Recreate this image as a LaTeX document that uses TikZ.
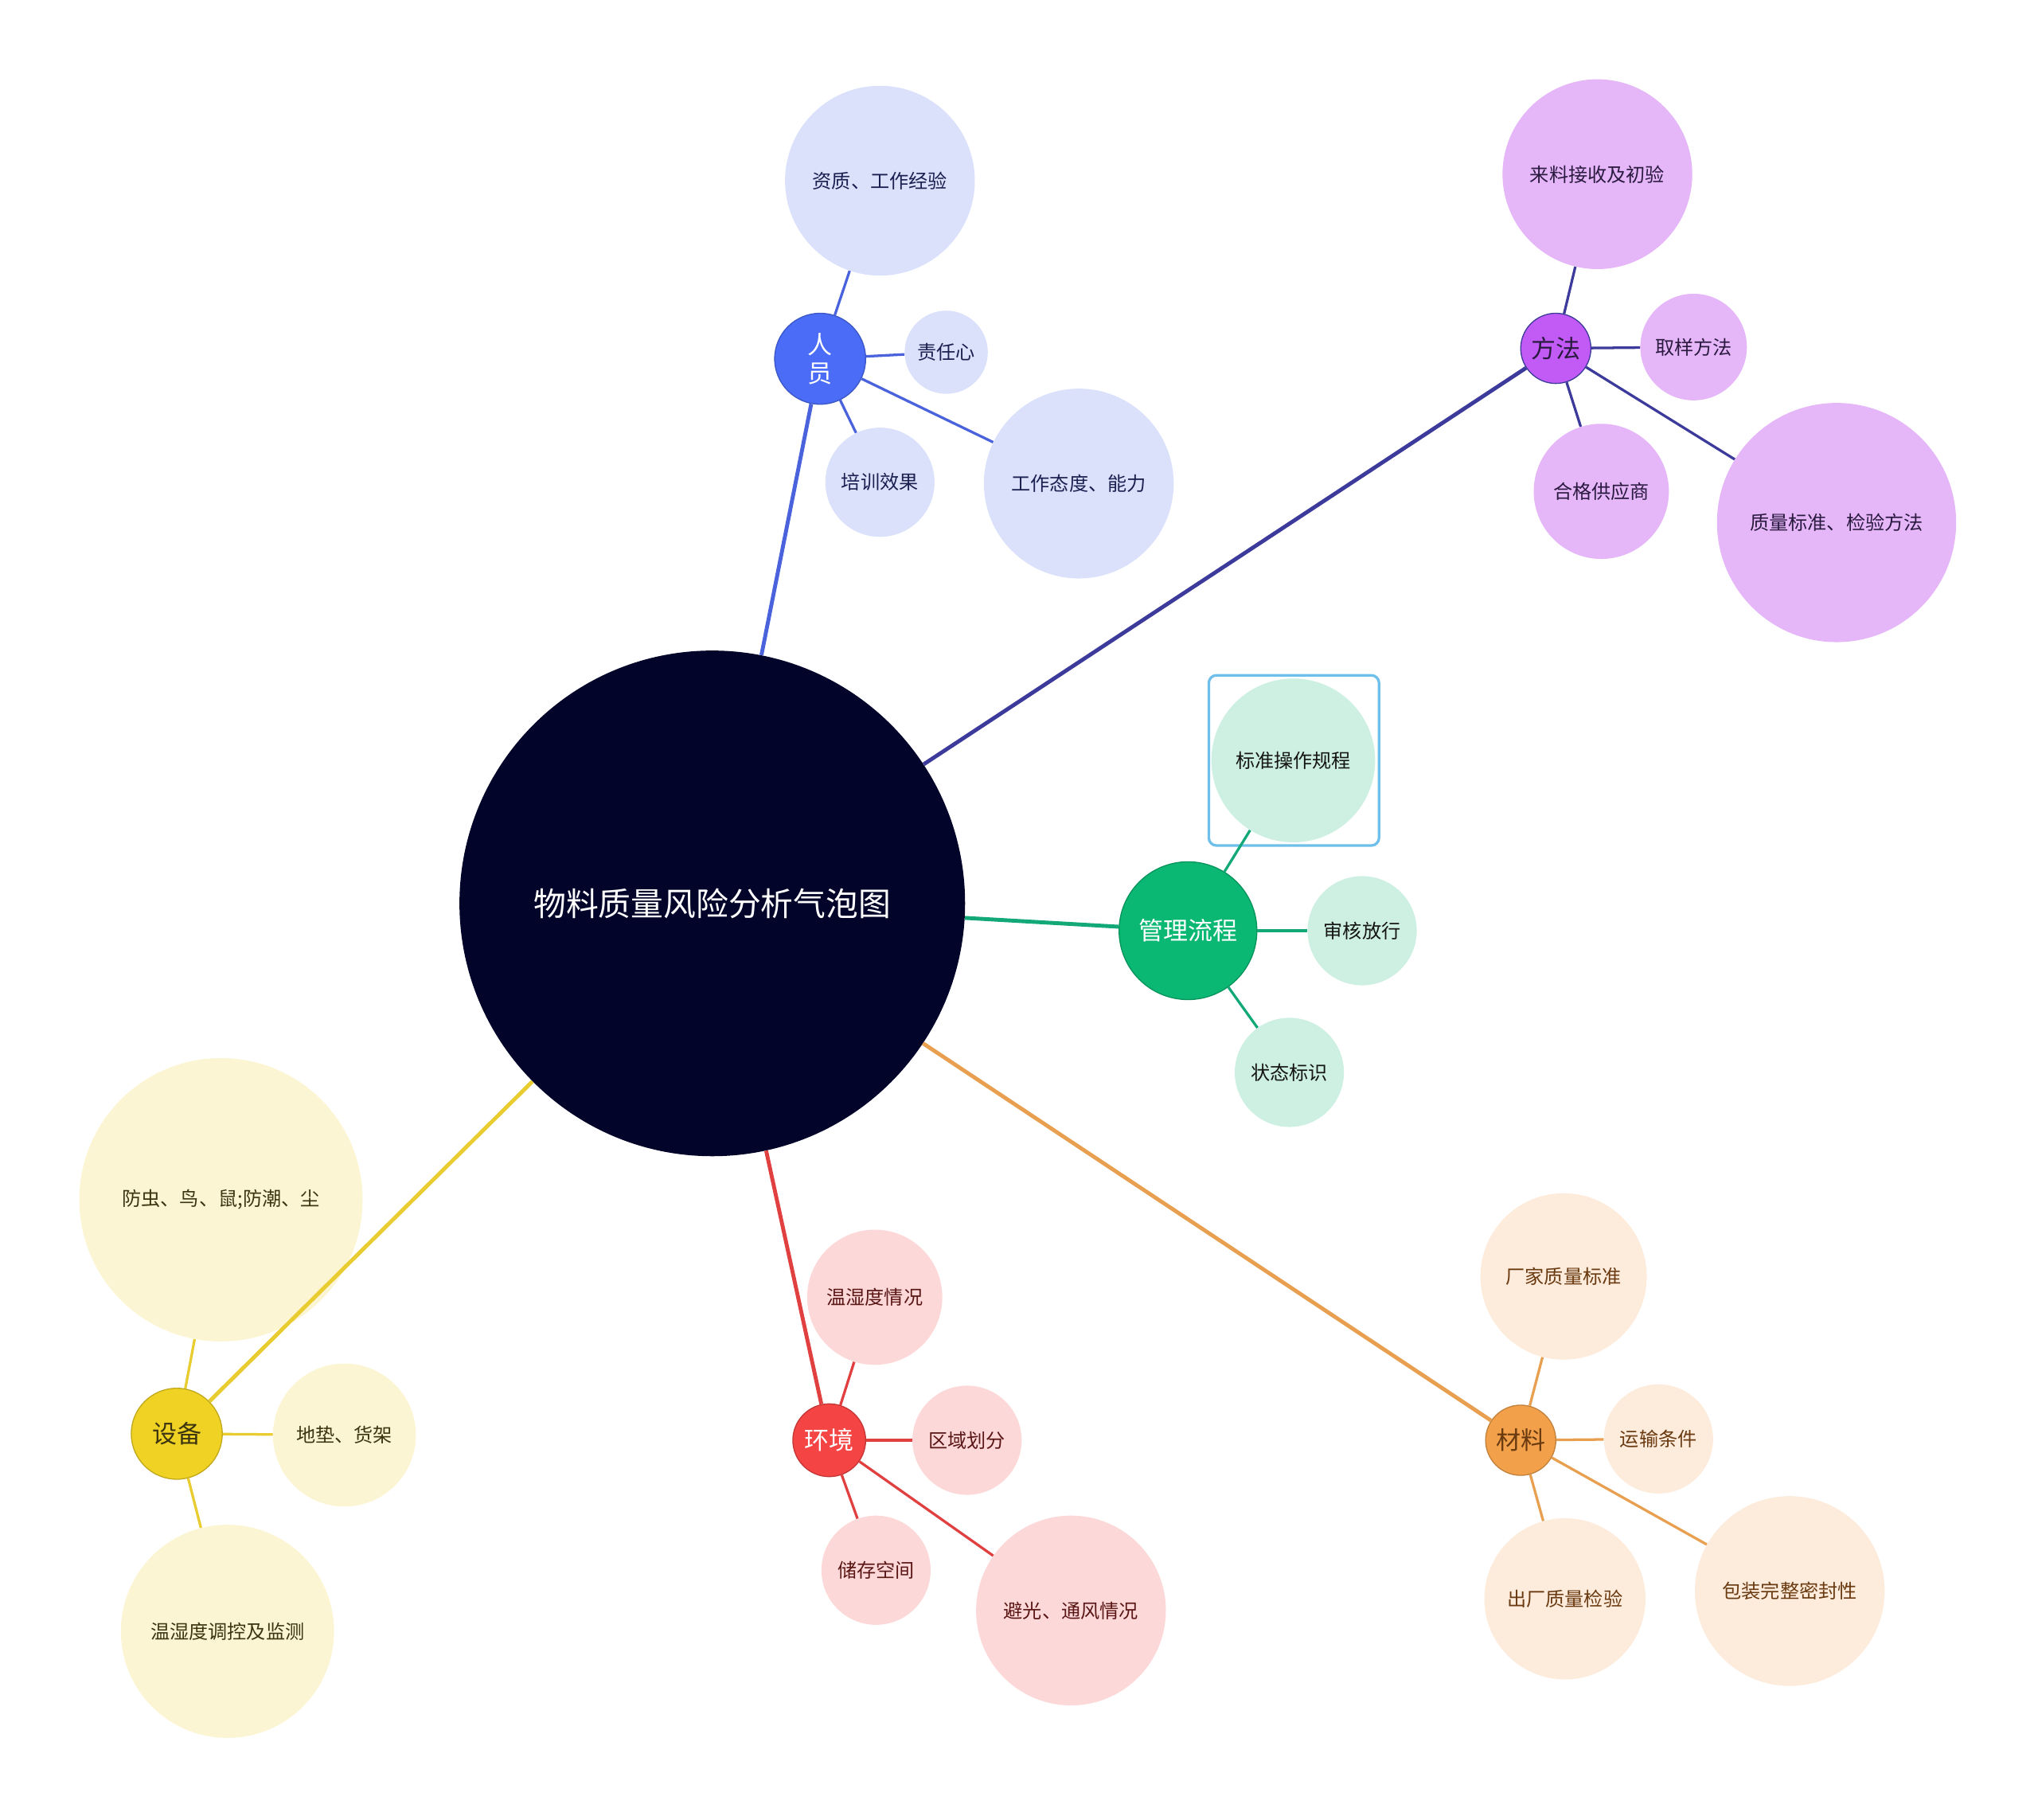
\documentclass[tikz,border=0pt]{standalone}
\usepackage{fontspec}
\setmainfont{Noto Sans CJK SC}
\usepackage{tikz}

\definecolor{navy}{HTML}{020529}
\definecolor{staffc}{HTML}{4A6CF6}\definecolor{staffl}{HTML}{DBE1FB}\definecolor{staffk}{HTML}{4A63DD}\definecolor{stafft}{HTML}{1A2050}
\definecolor{methc}{HTML}{C25AF5}\definecolor{methl}{HTML}{E5B6F8}\definecolor{methk}{HTML}{3C3A9A}\definecolor{metht}{HTML}{2A1A40}
\definecolor{mgmtc}{HTML}{0BB873}\definecolor{mgmtl}{HTML}{CDF0E2}\definecolor{mgmtk}{HTML}{12A878}\definecolor{mgmtt}{HTML}{151515}
\definecolor{equc}{HTML}{F0D224}\definecolor{equl}{HTML}{FCF5D3}\definecolor{equk}{HTML}{E8CC30}\definecolor{equt}{HTML}{3D3510}
\definecolor{envc}{HTML}{F44444}\definecolor{envl}{HTML}{FCD9D8}\definecolor{envk}{HTML}{E04040}\definecolor{envt}{HTML}{5A1515}
\definecolor{matc}{HTML}{F3A04A}\definecolor{matl}{HTML}{FDEBDC}\definecolor{matk}{HTML}{E8A050}\definecolor{matt}{HTML}{6A3A10}
\definecolor{selc}{HTML}{6EC0EA}

\begin{document}
\begin{tikzpicture}[
  x=1pt, y=-1pt,
  bubble/.style={circle, inner sep=0pt, align=center},
  topic/.style={bubble, fill=#1, draw=#1!80!black, line width=0.8pt,
                font=\fontsize{19}{22}\selectfont, text=white},
  leaf/.style={bubble, fill=#1, font=\fontsize{14.8}{17}\selectfont},
  link/.style={line width=3pt, draw=#1},
  twig/.style={line width=2pt, draw=#1},
  selbox/.style={draw=selc, line width=2pt, rounded corners=6pt,
                 minimum size=131pt, inner sep=0pt}
]
\useasboundingbox (0,0) rectangle (1568,1400);

% centre
\node[bubble, fill=navy, minimum size=389pt, text=white,
      font=\fontsize{25}{29}\selectfont] (ctr) at (548,695) {物料质量风险分析气泡图};

% 人员
\node[topic=staffc, minimum size=70pt, align=left] (staff) at (631,276) {人\\员};
\node[leaf=staffl, text=stafft, minimum size=146pt] (qual) at (677,139) {资质、工作经验};
\node[leaf=staffl, text=stafft, minimum size=64pt] (duty) at (728,271) {责任心};
\node[leaf=staffl, text=stafft, minimum size=84pt] (train) at (677,371) {培训效果};
\node[leaf=staffl, text=stafft, minimum size=146pt] (attit) at (830,372) {工作态度、能力};

% 方法
\node[topic=methc, minimum size=54pt, text=metht, draw=methk] (method) at (1197,268) {方法};
\node[leaf=methl, text=metht, minimum size=146pt] (recv) at (1229,134) {来料接收及初验};
\node[leaf=methl, text=metht, minimum size=82pt] (sample) at (1303,267) {取样方法};
\node[leaf=methl, text=metht, minimum size=104pt] (supp) at (1232,378) {合格供应商};
\node[leaf=methl, text=metht, minimum size=184pt] (std) at (1413,402) {质量标准、检验方法};

% 管理流程
\node[topic=mgmtc, minimum size=106pt] (mgmt) at (914,716) {管理流程};
\node[leaf=mgmtl, text=mgmtt, minimum size=126pt] (sop) at (995,585) {标准操作规程};
\node[selbox] (sel) at (995.5,585) {};
\node[leaf=mgmtl, text=mgmtt, minimum size=84pt] (rel) at (1048,716) {审核放行};
\node[leaf=mgmtl, text=mgmtt, minimum size=84pt] (mark) at (992,825) {状态标识};

% 设备
\node[topic=equc, minimum size=70pt, text=equt] (equip) at (136,1103) {设备};
\node[leaf=equl, text=equt, minimum size=218pt] (pest) at (170,923) {防虫、鸟、鼠;防潮、尘};
\node[leaf=equl, text=equt, minimum size=110pt] (rack) at (265,1104) {地垫、货架};
\node[leaf=equl, text=equt, minimum size=164pt] (ctrl) at (175,1255) {温湿度调控及监测};

% 环境
\node[topic=envc, minimum size=56pt] (env) at (638,1108) {环境};
\node[leaf=envl, text=envt, minimum size=104pt] (humid) at (673,998) {温湿度情况};
\node[leaf=envl, text=envt, minimum size=84pt] (zone) at (744,1108) {区域划分};
\node[leaf=envl, text=envt, minimum size=84pt] (space) at (674,1208) {储存空间};
\node[leaf=envl, text=envt, minimum size=146pt] (light) at (824,1239) {避光、通风情况};

% 材料
\node[topic=matc, minimum size=54pt, text=matt] (mat) at (1170,1108) {材料};
\node[leaf=matl, text=matt, minimum size=128pt] (mfr) at (1203,982) {厂家质量标准};
\node[leaf=matl, text=matt, minimum size=84pt] (trans) at (1276,1107) {运输条件};
\node[leaf=matl, text=matt, minimum size=124pt] (outq) at (1204,1230) {出厂质量检验};
\node[leaf=matl, text=matt, minimum size=146pt] (pack) at (1377,1224) {包装完整密封性};

% connectors
\draw[link=staffk] (ctr) -- (staff);
\draw[link=methk] (ctr) -- (method);
\draw[link=mgmtk] (ctr) -- (mgmt);
\draw[link=equk] (ctr) -- (equip);
\draw[link=envk] (ctr) -- (env);
\draw[link=matk] (ctr) -- (mat);
\foreach \c in {qual,duty,train,attit} \draw[twig=staffk] (staff) -- (\c);
\foreach \c in {recv,sample,supp,std} \draw[twig=methk] (method) -- (\c);
\foreach \c in {sop,rel,mark} \draw[twig=mgmtk] (mgmt) -- (\c);
\foreach \c in {pest,rack,ctrl} \draw[twig=equk] (equip) -- (\c);
\foreach \c in {humid,zone,space,light} \draw[twig=envk] (env) -- (\c);
\foreach \c in {mfr,trans,outq,pack} \draw[twig=matk] (mat) -- (\c);
\end{tikzpicture}
\end{document}
